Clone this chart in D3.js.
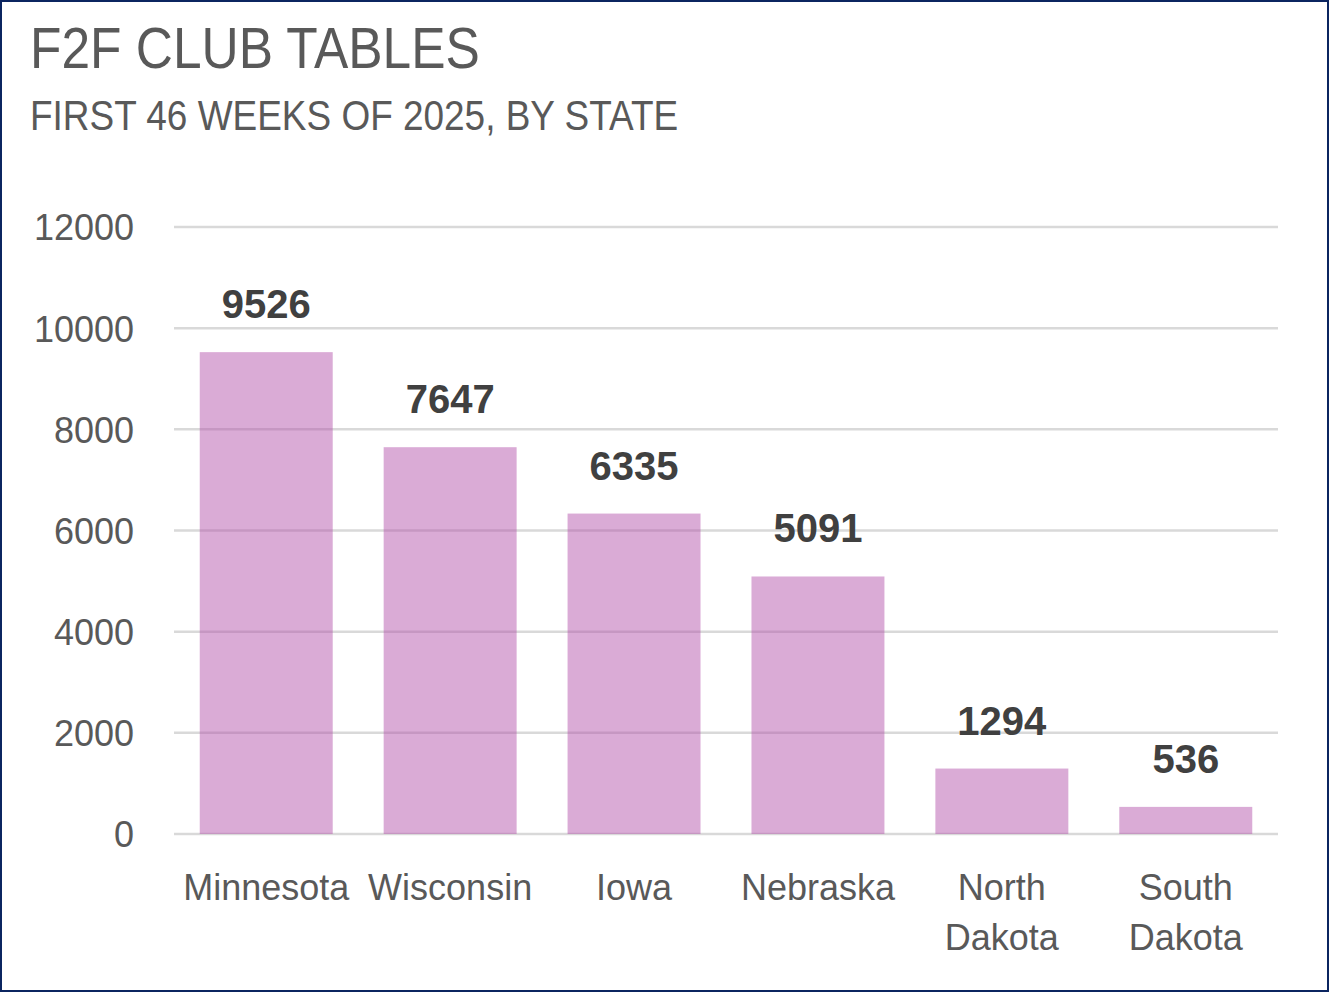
<!doctype html>
<html>
<head>
<meta charset="UTF-8">
<title>F2F club tables</title>
<script src="https://d3js.org/d3.v7.min.js"></script>
<style>
  body { margin: 0; background: #fff; }
  svg { display: block; }
</style>
</head>
<body>
<svg width="1329" height="992"></svg>
<script>
// data
var states = ["Minnesota", "Wisconsin", "Iowa", "Nebraska", "North Dakota", "South Dakota"];
var tables = [9526, 7647, 6335, 5091, 1294, 536];
var yTicks = [0, 2000, 4000, 6000, 8000, 10000, 12000];

var svg = d3.select("svg");
var W = 1329, H = 992;
var grey = "#595959";

// frame
svg.append("rect")
  .attr("x", 1).attr("y", 1)
  .attr("width", W - 2).attr("height", H - 2)
  .attr("fill", "#fff")
  .attr("stroke", "#0b2560")
  .attr("stroke-width", 2);

// titles (no narrow font installed, so squeeze Liberation Sans a bit)
svg.append("text")
  .attr("transform", "translate(30,68) scale(0.887,1)")
  .attr("font-family", "'Liberation Sans', Arial, sans-serif")
  .attr("font-size", 58)
  .attr("fill", grey)
  .text("F2F CLUB TABLES");

svg.append("text")
  .attr("transform", "translate(30,130) scale(0.88,1)")
  .attr("font-family", "'Liberation Sans', Arial, sans-serif")
  .attr("font-size", 42)
  .attr("fill", grey)
  .text("FIRST 46 WEEKS OF 2025, BY STATE");

var x = d3.scaleBand()
  .domain(states)
  .range([174, 1278])
  .paddingInner(0.277)
  .paddingOuter(0.14);

var y = d3.scaleLinear()
  .domain([0, 12000])
  .range([834, 227]);

// gridlines
svg.append("g").selectAll("line")
  .data(yTicks)
  .enter().append("line")
  .attr("x1", 174).attr("x2", 1278)
  .attr("y1", function(d){ return y(d); })
  .attr("y2", function(d){ return y(d); })
  .attr("stroke", "#d9d9d9")
  .attr("stroke-width", 2.5);

// y axis labels
var yAxis = d3.axisLeft(y).tickValues(yTicks).tickSize(0).tickPadding(0).tickFormat(d3.format("d"));
var ag = svg.append("g").attr("transform", "translate(134,0)").call(yAxis);
ag.select(".domain").remove();
ag.selectAll("text")
  .attr("font-family", "'Liberation Sans', Arial, sans-serif")
  .attr("font-size", 36)
  .attr("fill", grey)
  .attr("dy", "0.36em");

// bars
svg.append("g").selectAll("rect")
  .data(tables)
  .enter().append("rect")
  .attr("x", function(d, i){ return x(states[i]); })
  .attr("y", function(d){ return y(d); })
  .attr("width", x.bandwidth())
  .attr("height", function(d){ return y(0) - y(d); })
  .attr("fill", "#b24fa9")
  .attr("fill-opacity", 0.48);

// value labels
svg.append("g").selectAll("text")
  .data(tables)
  .enter().append("text")
  .attr("x", function(d, i){ return x(states[i]) + x.bandwidth() / 2; })
  .attr("y", function(d){ return y(d) - 34; })
  .attr("text-anchor", "middle")
  .attr("font-family", "'Liberation Sans', Arial, sans-serif")
  .attr("font-weight", "bold")
  .attr("font-size", 40)
  .attr("fill", "#404040")
  .text(function(d){ return d; });

// category labels
var cat = svg.append("g").selectAll("text")
  .data(states)
  .enter().append("text")
  .attr("text-anchor", "middle")
  .attr("font-family", "'Liberation Sans', Arial, sans-serif")
  .attr("font-size", 36)
  .attr("fill", grey);
cat.each(function(d){
  var t = d3.select(this);
  var words = d.split(" ");
  words.forEach(function(w, k){
    t.append("tspan")
      .attr("x", x(d) + x.bandwidth() / 2)
      .attr("y", 900 + k * 50)
      .text(w);
  });
});
</script>
</body>
</html>
